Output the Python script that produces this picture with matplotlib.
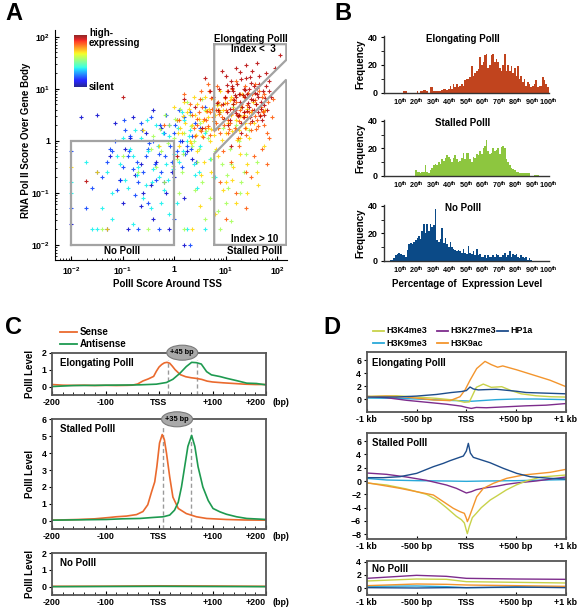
import numpy as np
import matplotlib
matplotlib.use('Agg')
import matplotlib.pyplot as plt
from matplotlib.patches import Ellipse

plt.rcParams['font.family'] = ['Liberation Sans', 'DejaVu Sans']
plt.rcParams['font.weight'] = 'bold'
plt.rcParams['mathtext.fontset'] = 'custom'
plt.rcParams['mathtext.rm'] = 'Liberation Sans:bold'
plt.rcParams['mathtext.it'] = 'Liberation Sans:bold'
plt.rcParams['mathtext.bf'] = 'Liberation Sans:bold'

#%% data - panel A (log10 of PolII score around TSS / over gene body), grouped by expression colour
red_lx = [1.05,1.12,1.20,1.28,1.35,1.42,1.50,1.58,1.65,1.72,1.80,1.88,
          0.95,1.02,1.10,1.18,1.25,1.32,1.40,1.48,1.55,1.62,1.70,1.78,
          0.88,1.00,1.08,1.15,1.22,1.30,1.38,1.45,1.52,1.60,1.68,1.75,
          0.92,1.05,1.15,1.25,1.35,1.45,1.55,1.65,
          0.75,0.85,1.20,1.40,1.60,1.85,0.60,0.70,1.95,2.05,
          0.40,0.20,-1.70,-1.00,0.05,0.55,1.30,1.10,
          1.08,1.16,1.24,1.33,1.41,1.49,1.57,1.66,1.74,0.98,1.13,1.29,1.44,1.60,1.76,
          0.83,1.03,1.21,1.37,1.53,1.69,1.85,1.27,1.47,1.63,1.79,0.97,1.19,1.35,1.51]
red_ly = [0.95,1.05,0.85,0.75,1.00,0.90,0.80,0.70,1.10,0.95,0.60,0.85,
          0.70,0.55,1.15,0.60,0.50,0.65,1.20,0.45,1.05,0.55,0.40,1.30,
          1.00,1.25,0.40,0.95,1.10,0.35,0.85,0.65,1.35,0.90,0.75,0.50,
          1.35,0.30,0.70,0.90,0.45,1.00,0.60,1.25,
          0.85,0.60,1.40,1.45,1.50,1.15,1.20,0.95,1.40,1.65,
          0.65,0.80,-0.77,0.85,-0.30,0.25,0.15,-0.10,
          0.62,0.78,0.48,0.88,0.58,1.12,0.92,0.47,0.68,0.85,1.02,1.18,0.72,1.02,0.82,
          0.72,1.08,0.53,0.98,0.78,0.62,0.95,1.32,1.22,0.85,1.05,0.42,0.88,0.55,0.38]
or_lx = [0.35,0.45,0.55,0.62,0.70,0.78,0.85,0.92,1.00,1.08,1.15,1.22,1.30,1.38,1.45,1.52,1.60,1.68,1.75,1.82,
         0.40,0.50,0.60,0.68,0.75,0.82,0.90,0.98,1.05,1.12,1.20,1.28,1.35,1.42,1.50,1.58,1.65,1.72,1.80,1.90,
         0.30,0.48,0.66,0.84,1.02,1.20,1.38,1.56,1.74,1.92,
         0.95,1.10,1.25,1.40,1.55,1.70,1.85,0.20,0.10,-0.20,
         0.90,1.20,1.50,1.80,1.00,1.40,
         0.52,0.58,0.66,0.73,0.81,0.88,0.96,1.03,1.11,1.18,1.26,1.33,1.41,1.48,1.56,1.63,
         0.44,0.57,0.71,0.86,0.99,1.14,1.27,1.43,1.57,1.71,
         0.63,0.77,0.91,1.06,1.21,1.36,1.51,1.66,
         0.38,0.53,0.69,0.87,1.04,1.23,1.39,1.58,1.73]
or_ly = [0.50,0.30,0.65,0.40,0.55,0.20,0.75,0.45,0.60,0.35,0.80,0.50,0.70,0.25,0.55,0.90,0.40,0.65,0.30,0.75,
         0.10,0.80,0.25,0.95,0.45,0.60,0.15,0.85,0.40,1.00,0.20,0.60,0.85,0.45,0.20,0.70,0.95,0.55,0.15,0.45,
         0.70,0.55,1.10,1.05,0.95,1.15,1.05,1.10,0.90,0.80,
         -0.20,-0.40,-0.10,-0.60,-0.30,-0.15,0.05,0.90,0.40,0.30,
         -0.80,-1.00,-0.70,-0.45,-1.50,-1.30,
         0.18,0.42,0.28,0.62,0.35,0.52,0.30,0.72,0.52,0.25,0.38,0.45,0.68,0.35,0.78,0.28,
         0.42,0.08,0.82,0.25,0.82,0.62,0.90,0.92,0.48,0.85,
         0.58,0.38,0.68,0.22,0.75,0.55,0.60,0.50,
         0.25,0.95,0.12,0.55,0.15,0.05,0.12,0.22,0.58]
ye_lx = [0.05,0.15,0.25,0.35,0.45,0.55,0.65,0.75,0.85,0.95,1.05,1.15,1.25,1.35,1.45,1.55,
         0.10,0.20,0.30,0.40,0.50,0.60,0.70,0.80,0.90,1.00,1.10,1.20,1.30,1.40,1.50,
         0.00,0.22,0.44,0.66,0.88,1.10,1.32,1.54,1.76,
         0.58,0.72,0.86,1.00,1.14,1.28,1.42,1.60,1.75,
         -0.30,-0.60,-1.30,-1.50,-2.00,0.35,0.50,0.80,1.20,0.95,
         0.12,0.28,0.42,0.57,0.71,0.83,0.97,1.12,1.27,1.41,
         0.18,0.33,0.48,0.62,0.78,0.93,1.08,1.22,1.37,
         0.07,0.38,0.68,0.98,1.28,0.52,0.82,1.12,1.42,1.62]
ye_ly = [0.40,0.15,0.55,0.30,0.70,0.10,0.45,0.80,0.25,0.60,0.35,0.70,0.20,0.50,0.05,0.35,
         -0.10,0.75,0.00,0.50,0.20,0.85,0.00,0.50,0.95,0.15,0.50,0.40,0.65,0.25,0.55,
         0.65,0.35,-0.20,0.25,0.60,0.85,0.90,0.75,0.60,
         -0.40,-0.60,-0.30,-0.80,-0.50,-0.25,-1.00,-0.60,-0.10,
         -0.10,0.20,-1.70,-0.60,-0.50,-1.70,-1.25,-1.40,-1.20,-0.95,
         0.25,0.62,0.12,0.38,0.22,0.68,0.42,0.18,0.48,0.62,
         0.48,-0.05,0.42,0.58,0.12,0.02,0.78,0.02,0.35,
         0.15,0.85,0.62,0.72,0.05,-0.65,-0.15,-0.75,-0.45,-0.85]
gr_lx = [-0.40,-0.25,-0.10,0.05,0.20,0.35,0.50,0.65,0.80,0.95,1.10,1.25,1.40,
         -0.35,-0.18,0.00,0.15,0.30,0.45,0.60,0.75,0.90,1.05,1.20,1.35,
         -0.20,0.10,0.40,0.70,1.00,1.30,1.60,
         0.25,0.55,0.85,1.15,1.45,
         -0.70,-1.00,-1.40,-0.50,0.20,0.60,0.90,1.10,
         -0.28,-0.12,0.02,0.18,0.32,0.48,0.62,0.78,0.92,1.08,
         -0.45,-0.02,0.38,0.72,1.02,1.28,0.12,0.55,0.85]
gr_ly = [0.10,-0.20,0.30,-0.35,0.15,-0.10,0.35,0.05,-0.20,0.25,-0.45,0.00,-0.25,
         -0.50,0.50,0.05,-0.60,0.50,-0.40,0.60,-0.70,0.55,-0.90,0.30,-0.60,
         -0.80,-1.00,-0.95,-1.10,-1.20,-0.80,-0.40,
         0.75,0.80,0.70,0.65,0.20,
         -0.60,-0.30,-1.70,-1.70,-1.70,-1.50,-1.70,-1.55,
         0.22,-0.05,0.42,-0.25,0.28,-0.15,0.18,0.38,-0.45,-0.15,
         -0.15,-0.48,0.00,-0.35,-0.65,-1.00,0.62,-0.80,-1.35]
cy_lx = [-1.30,-1.10,-0.90,-0.70,-0.50,-0.30,-0.10,0.10,0.30,0.50,
         -1.20,-1.00,-0.80,-0.60,-0.40,-0.20,0.00,0.20,0.40,0.60,
         -0.95,-0.75,-0.55,-0.35,-0.15,0.05,0.25,0.45,0.70,
         -1.50,-1.60,-1.40,-1.20,-0.80,-0.45,-0.10,0.25,0.60,-2.00,-2.00,-1.70,-0.25,0.15,0.80,
         -1.05,-0.85,-0.65,-0.42,-0.22,-0.02,0.18,0.38,-0.72,-0.32,0.08,0.48,-0.52,-0.12,0.28]
cy_ly = [-0.60,-0.30,-0.90,-0.50,-0.20,-0.70,0.10,-0.40,0.20,-0.10,
         -1.00,0.05,-0.30,-1.10,-0.55,-0.95,-0.25,0.40,-0.65,0.15,
         -0.75,0.20,-0.85,0.30,-0.45,-1.20,0.00,-0.90,-0.35,
         -1.70,-1.70,-1.30,-1.50,-1.60,-1.30,-1.40,-1.70,-1.70,-0.80,-1.00,-0.40,-1.20,0.55,-0.70,
         -0.45,-0.15,0.05,-0.80,0.15,-0.55,-0.20,-0.45,-0.65,-0.10,0.25,-0.60,0.40,-0.75,0.10]
bl_lx = [-1.40,-1.20,-1.00,-0.85,-0.70,-0.55,-0.40,-0.25,-0.10,0.05,0.20,0.35,
         -1.30,-1.10,-0.95,-0.80,-0.65,-0.50,-0.35,-0.20,-0.05,0.10,0.25,0.40,
         -1.15,-0.90,-0.75,-0.60,-0.45,-0.30,-0.15,0.00,0.15,0.30,0.50,
         -1.60,-1.50,-2.00,-2.00,-1.70,-0.70,-0.30,0.00,-0.50,0.60,0.30,
         -1.25,-1.05,-0.88,-0.62,-0.38,-0.18,0.02,0.22,0.42,-0.98,-0.72,-0.48,-0.28,-0.08,0.12,0.32]
bl_ly = [-0.70,-0.20,-0.50,0.10,-0.80,-0.30,0.00,-0.60,0.30,-0.20,0.45,0.10,
         -0.40,-0.95,0.20,-0.55,0.35,-0.15,-0.75,0.15,-0.40,0.60,-0.10,0.35,
         0.00,-0.30,-1.05,-0.60,0.45,-0.25,0.50,0.15,-0.50,0.55,0.25,
         -0.90,-0.60,-0.20,-1.30,-1.30,-1.70,-1.70,-1.50,-1.20,0.65,-2.00,
         -0.15,-0.75,-0.20,0.20,-0.45,-0.30,0.30,-0.25,-0.40,0.40,-0.40,-0.05,0.30,-0.10,0.00,-0.15]
db_lx = [-1.25,-1.05,-0.85,-0.65,-0.45,-0.25,-0.05,0.15,0.35,
         -1.15,-0.95,-0.75,-0.55,-0.35,-0.15,0.05,0.25,
         -1.00,-0.60,-0.20,0.20,-0.80,-0.40,0.00,
         -1.80,-1.50,-2.00,-1.30,-0.90,-0.10,0.20,-0.65,-0.40]
db_ly = [-0.30,-0.75,0.05,-0.45,-0.85,0.25,-0.60,0.00,-0.35,
         0.35,-0.15,-0.65,0.15,-0.40,-1.00,0.40,-0.20,
         -1.20,-1.00,-0.80,-1.10,0.45,0.60,-0.70,
         0.45,0.50,-1.60,-1.70,-1.70,-1.70,-2.00,-1.25,-1.50]
scatter_groups = [(db_lx, db_ly, 0.07), (bl_lx, bl_ly, 0.18), (cy_lx, cy_ly, 0.36),
                  (gr_lx, gr_ly, 0.55), (ye_lx, ye_ly, 0.68), (or_lx, or_ly, 0.82),
                  (red_lx, red_ly, 0.95)]

nopol_box_x = [0.01, 1, 1, 0.01, 0.01]
nopol_box_y = [0.01, 0.01, 1, 1, 0.01]
elong_box_x = [6, 150, 150, 6, 6]
elong_box_y = [72, 72, 36, 1.54, 72]
stall_box_x = [6, 150, 150, 6, 6]
stall_box_y = [0.01, 0.01, 15, 0.56, 0.01]

a_ticks = [0.01, 0.1, 1, 10, 100]
a_ticklabels = ['$10^{-2}$', '$10^{-1}$', '1', '$10^{1}$', '$10^{2}$']

#%% data - panel B (frequency per 1% bin of expression percentile)
elong_freq = [0,0,0,0,0,0,0,0,0,0,
              0,0,1,1,0,0,0,0,0,0,
              1,0,1,1,2,2,1,0,4,4,
              1,1,1,1,1,2,3,3,2,3,
              5,3,6,4,6,4,5,6,5,9,
              10,10,11,19,12,14,16,17,26,20,
              22,27,28,18,20,27,28,22,24,22,
              18,16,20,28,16,20,16,19,14,18,
              12,19,10,12,8,10,5,8,6,4,
              5,6,9,4,5,5,11,9,6,4]
stall_freq = [0,0,0,0,0,0,0,0,0,0,
              0,0,0,0,0,0,0,0,0,4,
              3,3,2,3,3,8,3,2,4,6,
              8,9,8,10,9,12,11,13,15,14,
              12,10,13,15,12,10,11,13,17,12,
              17,17,12,10,14,13,16,15,18,16,
              20,22,26,18,16,17,20,18,19,20,
              16,21,22,20,12,10,8,6,5,4,
              3,3,2,2,2,2,2,2,2,0,
              0,1,1,1,0,0,0,0,0,0]
nopol_freq = [0,0,0,0,1,1,2,4,5,6,
              5,4,4,3,8,12,13,12,14,15,
              17,18,16,22,27,20,27,22,27,25,
              26,38,15,14,16,24,13,17,12,10,
              14,10,9,8,7,8,7,6,9,6,
              5,11,6,5,7,4,9,4,5,3,
              3,4,2,4,3,3,4,3,5,4,
              3,3,4,6,3,4,7,3,5,4,
              5,3,2,4,3,2,3,1,2,1,
              0,0,0,0,0,0,0,0,0,0]
pct_ticks = [10, 20, 30, 40, 50, 60, 70, 80, 90, 100]
pct_labels = [r'%d$^{\rm th}$' % p for p in pct_ticks]

#%% data - panel C (PolII level around TSS, bp)
c1_sense_x = [-200,-180,-160,-140,-120,-100,-80,-60,-50,-40,-30,-20,-10,-5,0,5,10,15,20,25,
              30,35,40,50,60,70,80,90,100,120,140,160,180,200]
c1_sense_y = [0.12,0.08,0.07,0.08,0.06,0.07,0.06,0.07,0.08,0.15,0.33,0.45,0.6,0.9,1.15,1.3,1.4,1.43,1.38,1.2,
              1.0,0.85,0.7,0.58,0.52,0.48,0.42,0.32,0.27,0.22,0.18,0.14,0.12,0.12]
c1_anti_x = [-200,-160,-120,-100,-60,-36,-5,14,26,39,51,61,70,79,89,98,114,126,145,164,182,200]
c1_anti_y = [0.0,0.06,0.07,0.08,0.09,0.1,0.14,0.24,0.43,0.78,1.18,1.43,1.41,1.33,0.88,0.69,0.59,0.49,0.35,0.2,0.18,0.1]
c2_sense_x = [-200,-150,-120,-92,-80,-61,-42,-30,-21,-14,-8,-4,1,6,10,14,20,26,36,51,70,89,126,160,200]
c2_sense_y = [0.04,0.08,0.12,0.2,0.24,0.28,0.37,0.55,0.95,1.7,2.3,3.2,4.6,5.1,4.8,4.0,2.6,1.4,0.73,0.43,
              0.24,0.14,0.08,0.05,0.04]
c2_anti_x = [-200,-150,-99,-68,-36,-11,8,20,29,36,42,48,54,61,67,73,82,92,101,114,126,145,164,189,200]
c2_anti_y = [0.04,0.06,0.08,0.12,0.14,0.2,0.24,0.34,0.63,1.1,2.0,3.2,4.4,5.05,4.4,3.2,2.0,1.2,0.73,0.53,
             0.39,0.24,0.14,0.1,0.08]
c3_x = [-200, -100, 0, 100, 200]
c3_sense_y = [0.02, 0.03, 0.05, 0.04, 0.02]
c3_anti_y = [0.0, 0.01, 0.02, 0.01, 0.0]
c1_marks = [16, 71]
c2_marks = [7.5, 60]
c_ticks = [-200, -100, 0, 100, 200]
c_ticklabels = ['-200', '-100', 'TSS', '+100', '+200']

#%% data - panel D (histone marks around TSS, bp)
d1 = {
    'H3K4me3': ([-1000,-700,-500,-300,-100,-20,30,60,100,170,250,355,450,550,700,850,1000],
                [0.4,0.5,0.3,0.1,-0.2,-0.5,-0.45,0.5,1.8,2.3,1.8,1.9,1.3,0.8,0.5,0.35,0.3]),
    'H3K27me3': ([-1000,-800,-600,-400,-200,-50,0,50,100,200,400,600,800,1000],
                 [0.4,0.2,-0.2,-0.5,-0.8,-1.1,-1.3,-1.45,-1.3,-1.35,-1.2,-1.05,-0.95,-0.7]),
    'HP1a': ([-1000,-700,-500,-300,-150,-50,0,37,70,120,200,300,400,500,600,800,1000],
             [0.3,0.3,0.45,0.7,1.0,1.15,1.3,1.85,1.55,1.4,1.45,1.5,1.35,1.2,1.0,0.9,0.8]),
    'H3K9me3': ([-1000,-700,-500,-200,0,50,100,300,500,700,1000],
                [0.15,0.1,0.0,-0.2,-0.3,-0.35,-0.3,-0.1,0.0,0.0,-0.1]),
    'H3K9ac': ([-1000,-800,-600,-330,-164,-64,-13,37,104,187,250,314,365,505,672,839,1000],
               [0.36,0.45,0.3,-0.15,-0.25,0.35,1.4,2.9,4.7,5.8,5.3,4.9,5.1,4.5,3.7,2.9,1.9]),
}
d2 = {
    'H3K4me3': ([-1000,-800,-600,-400,-300,-200,-100,-50,-20,0,10,30,60,100,150,240,300,400,500,600,750,1000],
                [-0.3,-0.6,-1.2,-2.0,-2.8,-4.0,-5.3,-5.8,-6.3,-7.4,-7.9,-6.8,-5.5,-4.85,-4.0,-2.85,-2.3,-1.35,-0.6,0.0,0.6,0.9]),
    'H3K27me3': ([-1000,-800,-600,-400,-200,-100,0,50,100,200,300,400,500,700,800,1000],
                 [1.2,1.0,0.6,0.1,-0.6,-1.1,-1.8,-1.6,-1.3,-1.0,-0.8,-0.5,-0.3,0.0,0.2,0.6]),
    'HP1a': ([-1000,-833,-666,-498,-331,-231,-164,-30,0,20,40,70,237,371,505,639,840,1000],
             [0.5,0.5,0.65,1.15,2.15,2.65,3.05,3.75,4.5,5.65,4.2,3.55,2.75,1.9,1.15,0.65,0.4,0.3]),
    'H3K9me3': ([-1000,-800,-500,-200,0,200,500,800,1000],
                [0.4,0.15,0.05,0.0,-0.05,0.0,0.05,0.15,0.2]),
    'H3K9ac': ([-1000,-666,-500,-331,-231,-131,-64,-20,0,10,25,43,104,171,271,405,572,840,1000],
               [-0.25,-1.1,-1.6,-2.1,-3.1,-4.1,-4.6,-4.85,-5.6,-6.1,-5.6,-4.85,-2.35,-1.1,-0.35,0.4,0.9,1.3,1.75]),
}
d3_x = [-1000, -500, -200, 0, 500, 1000]
d3 = {
    'H3K4me3': (d3_x, [1.1, 1.4, 1.35, 1.0, 0.9, 0.8]),
    'H3K27me3': (d3_x, [1.5, 1.95, 1.8, 1.5, 1.4, 1.35]),
    'HP1a': (d3_x, [0.1, 0.05, 0.1, 0.1, 0.2, 0.1]),
    'H3K9me3': (d3_x, [0.3, 0.35, 0.25, 0.1, 0.15, 0.15]),
    'H3K9ac': (d3_x, [0.4, 0.65, 0.6, 0.5, 0.4, 0.3]),
}
d_colors = {'H3K4me3': '#c8d24a', 'H3K27me3': '#7d2c8c', 'HP1a': '#1e4d8b',
            'H3K9me3': '#2aa9d9', 'H3K9ac': '#f3952d'}
d_ticks = [-1000, -500, 0, 500, 1000]
d_ticklabels = ['-1 kb', '-500 bp', 'TSS', '+500 bp', '+1 kb']

#%% figure
W, H = 583, 613
fig = plt.figure(figsize=(W / 100, H / 100), dpi=100)
frame = '#555555'
fs = 7.0
tfs = 6.4


def box(x0, y0, x1, y1):
    return fig.add_axes([x0 / W, 1 - y1 / H, (x1 - x0) / W, (y1 - y0) / H])


def ftext(px, py, s, **kw):
    fig.text(px / W, 1 - py / H, s, **kw)


for lab, px, py in [('A', 5, 14), ('B', 334, 14), ('C', 5, 327), ('D', 323, 327)]:
    ftext(px, py, lab, fontsize=17, fontweight='bold', va='center')

#%% A
axA = box(55, 30, 287, 260)
for lx, ly, c in scatter_groups:
    axA.scatter(10 ** np.array(lx), 10 ** np.array(ly), s=7, marker='+',
                color=plt.cm.jet(c), linewidths=0.8, alpha=0.85, zorder=2)
for bx, by in [(nopol_box_x, nopol_box_y), (elong_box_x, elong_box_y), (stall_box_x, stall_box_y)]:
    axA.plot(bx, by, color='#a3a3a3', lw=1.6, zorder=3, solid_joinstyle='miter')
axA.set_xscale('log')
axA.set_yscale('log')
axA.set_xlim(10 ** -2.31, 10 ** 2.19)
axA.set_ylim(10 ** -2.29, 10 ** 2.13)
axA.spines['top'].set_visible(False)
axA.spines['right'].set_visible(False)
axA.set_xticks(a_ticks)
axA.set_xticklabels(a_ticklabels)
axA.set_yticks(a_ticks)
axA.set_yticklabels(a_ticklabels)
axA.tick_params(which='both', direction='in', labelsize=tfs)
axA.tick_params(which='major', length=3)
axA.tick_params(which='minor', length=1.5)
tA = dict(fontsize=fs, fontweight='bold', ha='center', va='center')
axA.text(10 ** 1.495, 10 ** 1.952, 'Elongating PolII', **tA)
axA.text(10 ** 1.534, 10 ** 1.761, 'Index <  3', **tA)
axA.text(10 ** 1.553, 10 ** -1.895, 'Index > 10', **tA)
axA.text(10 ** 1.553, 10 ** -2.124, 'Stalled PolII', **tA)
axA.text(10 ** -1.01, 10 ** -2.124, 'No PolII', **tA)
ftext(167, 284, 'PolII Score Around TSS', fontsize=fs, ha='center', va='center')
ftext(26, 140, 'RNA Pol II Score Over Gene Body', fontsize=fs, ha='center', va='center', rotation=90)

axC = box(74, 35, 87, 87)
axC.imshow(np.linspace(0, 1, 100).reshape(-1, 1), cmap='jet', origin='lower', aspect='auto', alpha=0.85)
axC.axis('off')
ftext(89, 38, 'high-\nexpressing', fontsize=fs, va='center', linespacing=1.0)
ftext(89, 87, 'silent', fontsize=fs, va='center')

#%% B
b_panels = [(elong_freq, '#c1441e', 'Elongating PolII', 35.9, 92.7),
            (stall_freq, '#8dc63f', 'Stalled PolII', 119.6, 176),
            (nopol_freq, '#0b4a87', 'No PolII', 204.6, 261)]
for freq, col, name, top, bot in b_panels:
    ax = box(383.5, top, 548.5, bot)
    ax.bar(np.arange(len(freq)), freq, width=1, align='edge', color=col, lw=0)
    ax.set_xlim(0, 100)
    ax.set_ylim(0, 41)
    ax.spines['top'].set_visible(False)
    ax.spines['right'].set_visible(False)
    for s in ['left', 'bottom']:
        ax.spines[s].set_color('#333333')
        ax.spines[s].set_linewidth(1.0)
    ax.set_yticks([0, 20, 40])
    ax.set_yticks([10, 30], minor=True)
    ax.set_xticks(pct_ticks)
    ax.set_xticklabels(pct_labels)
    ax.tick_params(axis='y', which='both', direction='out', length=2.5, labelsize=tfs, pad=1.5)
    ax.tick_params(axis='x', length=0, labelsize=5.2, pad=3)
    ftext(463, top + 3, name, fontsize=fs, ha='center', va='center')
    ftext(360, (top + bot) / 2, 'Frequency', fontsize=fs, ha='center', va='center', rotation=90)
ftext(467, 284, 'Percentage of  Expression Level', fontsize=fs, ha='center', va='center')

#%% C
sense_col = '#ea6a2e'
anti_col = '#1e9a50'
c_panels = [(c1_sense_x, c1_sense_y, c1_anti_x, c1_anti_y, 'Elongating PolII', 352.7, 395, (-0.5, 2), c1_marks, '+45 bp'),
            (c2_sense_x, c2_sense_y, c2_anti_x, c2_anti_y, 'Stalled PolII', 419.3, 529.3, (-0.5, 6), c2_marks, '+35 bp'),
            (c3_x, c3_sense_y, c3_x, c3_anti_y, 'No PolII', 553.3, 595, (-0.5, 2), None, None)]
for sx, sy, ax_, ay, name, top, bot, yl, marks, shift in c_panels:
    ax = box(52, top, 266, bot)
    ax.plot(sx, sy, color=sense_col, lw=1.2)
    ax.plot(ax_, ay, color=anti_col, lw=1.2)
    ax.set_xlim(-200, 200)
    ax.set_ylim(*yl)
    ax.set_yticks(range(0, int(yl[1]) + 1))
    ax.set_xticks(c_ticks)
    ax.set_xticklabels(c_ticklabels)
    ax.get_xticklabels()[-1].set_horizontalalignment('right')
    ax.set_xticks(np.arange(-200, 201, 20), minor=True)
    for s in ax.spines.values():
        s.set_color(frame)
        s.set_linewidth(1.3)
    ax.tick_params(axis='x', which='both', direction='in', labelsize=tfs, pad=2)
    ax.tick_params(axis='x', which='major', length=3)
    ax.tick_params(axis='x', which='minor', length=2)
    ax.tick_params(axis='y', direction='out', length=2.5, labelsize=tfs, pad=1.5)
    ax.annotate('(bp)', xy=(1, 0), xycoords='axes fraction', xytext=(4.5, -5.3),
                textcoords='offset points', fontsize=tfs, ha='left', va='center')
    ax.text(8 / 214, 1 - 10 / (bot - top), name, transform=ax.transAxes, fontsize=fs, va='center')
    if marks is not None:
        ppx = 214 / 400.0
        ppy = (bot - top) / (yl[1] - yl[0])
        cx = (marks[0] + marks[1]) / 2.0
        ax.add_patch(Ellipse((cx, yl[1]), 31 / ppx, 15 / ppy, facecolor='#a9a9a9',
                             edgecolor='#7a7a7a', lw=0.8, clip_on=False, zorder=5))
        ax.text(cx, yl[1], shift, fontsize=5.3, ha='center', va='center', zorder=6)
        for m in marks:
            ax.plot([m, m], [yl[0], yl[1] - 7.5 / ppy], color='#9a9a9a', lw=1.0,
                    dashes=(3, 2), zorder=1)
    ftext(30, (top + bot) / 2, 'PolII Level', fontsize=fs, ha='center', va='center', rotation=90)

ax_leg = [(60, 332, sense_col, 'Sense'), (60, 344, anti_col, 'Antisense')]
for px, py, col, lab in ax_leg:
    fig.add_artist(plt.Line2D([px / W, (px + 17) / W], [1 - py / H, 1 - py / H], color=col, lw=1.3))
    ftext(px + 20, py, lab, fontsize=fs, va='center')

#%% D
d_panels = [(d1, 'Elongating PolII', 352.3, 412.3, (-2.05, 7.2), [0, 2, 4, 6]),
            (d2, 'Stalled PolII', 432.7, 539.3, (-8.75, 7.25), [-8, -6, -4, -2, 0, 2, 4, 6]),
            (d3, 'No PolII', 561, 595, (-1, 4.1), [0, 2, 4])]
for dd, name, top, bot, yl, yt in d_panels:
    ax = box(366.7, top, 566, bot)
    for key in ['H3K9me3', 'H3K27me3', 'H3K4me3', 'H3K9ac', 'HP1a']:
        xs, ys = dd[key]
        ax.plot(xs, ys, color=d_colors[key], lw=1.0)
    ax.set_xlim(-1000, 1000)
    ax.set_ylim(*yl)
    ax.set_yticks(yt)
    ax.set_xticks(d_ticks)
    ax.set_xticklabels(d_ticklabels)
    for s in ax.spines.values():
        s.set_color(frame)
        s.set_linewidth(1.3)
    ax.tick_params(axis='x', direction='in', length=2, labelsize=tfs, pad=2)
    ax.tick_params(axis='y', direction='out', length=2.5, labelsize=tfs, pad=1.5)
    ax.text(5 / 199.3, 1 - 10.5 / (bot - top) if bot - top > 40 else 1 - 8.3 / (bot - top), name,
            transform=ax.transAxes, fontsize=fs, va='center')

d_leg = [(373, 330.7, 'H3K4me3'), (437, 330.7, 'H3K27me3'), (497, 330.7, 'HP1a'),
         (373, 343.3, 'H3K9me3'), (437, 343.3, 'H3K9ac')]
for px, py, key in d_leg:
    fig.add_artist(plt.Line2D([px / W, (px + 11) / W], [1 - py / H, 1 - py / H], color=d_colors[key], lw=1.3))
    ftext(px + 13.5, py, key, fontsize=6.4, va='center')

fig.savefig('out.png', dpi=100)
